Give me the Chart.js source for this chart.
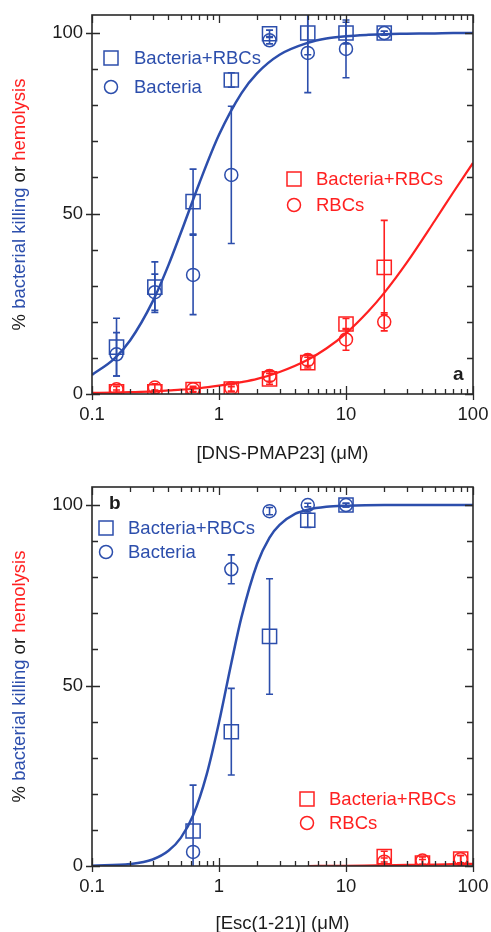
<!DOCTYPE html>
<html>
<head>
<meta charset="utf-8">
<script src="https://cdn.jsdelivr.net/npm/chart.js@4.4.0/dist/chart.umd.min.js"></script>
<style>
  html, body { margin: 0; padding: 0; background: #fff; }
  .panel { position: absolute; left: 0; }
  #chartA { top: 0; }
  #chartB { top: 465px; }
</style>
</head>
<body>
<canvas id="chartA" class="panel" width="491" height="465"></canvas>
<canvas id="chartB" class="panel" width="491" height="467"></canvas>
<script>
const BLUE = 'rgb(44, 78, 172)';
const RED = 'rgb(255, 32, 32)';
const INK = '#1c1c1c';
const FONT = '"Liberation Sans", Arial, sans-serif';

// axis ticks
const xTicks = [0.1, 1, 10, 100];
const xMinorTicks = [0.2, 0.3, 0.4, 0.5, 0.6, 0.7, 0.8, 0.9, 2, 3, 4, 5, 6, 7, 8, 9, 20, 30, 40, 50, 60, 70, 80, 90];
const yTicks = [0, 50, 100];
const yMinorTicks = [10, 20, 30, 40, 60, 70, 80, 90];

// panel a: DNS-PMAP23
const concA = [0.156, 0.3125, 0.625, 1.25, 2.5, 5, 10, 20];
const aBlueSq = [13, 29.6, 53.3, 87, 99.8, 100, 100, 100];
const aBlueSqErr = [8, 7, 9, 2, 1, 6, 3, 0.5];
const aBlueCi = [11, 28.2, 33, 60.7, 98, 94.5, 95.6, 100];
const aBlueCiErr = [6, 5, 11, 19, 1, 11, 8, 0.5];
const aRedSq = [0.6, 0.6, 1.2, 1.4, 4.2, 8.7, 19.4, 35.1];
const aRedSqErr = [0.5, 0.5, 0.5, 0.6, 1.5, 1.5, 1.5, 13];
const aRedCi = [1.3, 1.8, 1.3, 1.6, 5, 9.4, 15.1, 20];
const aRedCiErr = [0.8, 1, 0.8, 1, 1.5, 1.5, 3, 2.5];

const curveXA = [0.1, 0.15, 0.2, 0.3, 0.4, 0.5, 0.7, 1, 1.5, 2, 3, 5, 7, 10, 15, 20, 30, 50, 70, 100];
const curveABlue = [5.3, 9.8, 14.9, 25.6, 35.7, 44.6, 58.4, 71.8, 83.3, 88.9, 94.0, 97.3, 98.5, 99.1, 99.5, 99.7, 99.8, 99.9, 100, 100];
const curveARed = [0.3, 0.4, 0.5, 0.7, 1.0, 1.2, 1.6, 2.3, 3.3, 4.2, 6.1, 9.5, 12.6, 16.8, 22.9, 28, 36.3, 48, 55.9, 64];

// panel b: Esc(1-21)
const concB = [0.625, 1.25, 2.5, 5, 10];
const bBlueSq = [9.7, 37.2, 63.6, 95.8, 100];
const bBlueSqErr = [12.7, 12, 16, 2, 0.5];
const bBlueCi = [3.9, 82.2, 98.3, 100, 100];
const bBlueCiErr = [0, 4, 1, 0.5, 0.5];
const concBRed = [20, 40, 80];
const bRedSq = [2.6, 0.8, 1.9];
const bRedSqErr = [1.5, 1, 1];
const bRedCi = [1.2, 1.5, 1.9];
const bRedCiErr = [1, 1, 1];

const curveXB = [0.1, 0.2, 0.3, 0.4, 0.5, 0.625, 0.8, 1, 1.25, 1.5, 2, 2.5, 3, 4, 5, 7, 10, 20, 50, 100];
const curveBBlue = [0.1, 0.55, 1.8, 4.2, 7.8, 14, 25.4, 39.8, 56.2, 68.8, 83.8, 91, 94.5, 97.6, 98.7, 99.5, 99.8, 100, 100, 100];
const curveXBRed = [5, 10, 14, 20, 30, 50, 70, 100];
const curveBRed = [0, 0.05, 0.1, 0.2, 0.3, 0.4, 0.5, 0.6];

function pts(xs, ys) {
  return xs.map((x, i) => ({ x: x, y: ys[i] }));
}

function curve(xs, ys, color, width) {
  return {
    data: pts(xs, ys), showLine: true, borderColor: color, borderWidth: width,
    pointRadius: 0, cubicInterpolationMode: 'monotone', order: 2
  };
}

function marks(xs, ys, errs, color, style) {
  return {
    data: pts(xs, ys), errorBars: errs, showLine: false,
    pointStyle: style, pointRadius: style === 'rect' ? 10 : 6.5,
    pointBorderWidth: 1.5, borderColor: color, backgroundColor: 'rgba(0,0,0,0)',
    order: 1
  };
}

// error bars, drawn through the chart scales
const errorBarPlugin = {
  id: 'errorBars',
  afterDatasetsDraw(chart) {
    const { ctx, chartArea, scales } = chart;
    ctx.save();
    ctx.beginPath();
    ctx.rect(chartArea.left, chartArea.top, chartArea.right - chartArea.left, chartArea.bottom - chartArea.top);
    ctx.clip();
    chart.data.datasets.forEach(ds => {
      if (!ds.errorBars) return;
      ctx.strokeStyle = ds.borderColor;
      ctx.lineWidth = 1.6;
      ds.data.forEach((p, i) => {
        const e = ds.errorBars[i];
        if (!e) return;
        const px = scales.x.getPixelForValue(p.x);
        const y1 = scales.y.getPixelForValue(p.y + e);
        const y0 = scales.y.getPixelForValue(p.y - e);
        ctx.beginPath();
        ctx.moveTo(px, y0); ctx.lineTo(px, y1);
        ctx.moveTo(px - 3.5, y0); ctx.lineTo(px + 3.5, y0);
        ctx.moveTo(px - 3.5, y1); ctx.lineTo(px + 3.5, y1);
        ctx.stroke();
      });
    });
    ctx.restore();
  }
};

// frame, inward ticks, legends, tag and the coloured y title
const decorPlugin = {
  id: 'decor',
  afterDraw(chart, args, opts) {
    const { ctx, chartArea: a, scales } = chart;
    ctx.save();
    ctx.strokeStyle = '#2a2a2a';
    ctx.lineWidth = 1.3;
    ctx.beginPath();
    xTicks.forEach(v => {
      const px = Math.round(scales.x.getPixelForValue(v)) + 0.5;
      ctx.moveTo(px, a.bottom + 6); ctx.lineTo(px, a.bottom - 8);
      ctx.moveTo(px, a.top); ctx.lineTo(px, a.top + 8);
    });
    xMinorTicks.forEach(v => {
      const px = Math.round(scales.x.getPixelForValue(v)) + 0.5;
      ctx.moveTo(px, a.bottom); ctx.lineTo(px, a.bottom - 5);
      ctx.moveTo(px, a.top); ctx.lineTo(px, a.top + 5);
    });
    yTicks.forEach(v => {
      const py = Math.round(scales.y.getPixelForValue(v)) + 0.5;
      ctx.moveTo(a.left - 6, py); ctx.lineTo(a.left + 8, py);
      ctx.moveTo(a.right - 8, py); ctx.lineTo(a.right, py);
    });
    yMinorTicks.forEach(v => {
      const py = Math.round(scales.y.getPixelForValue(v)) + 0.5;
      ctx.moveTo(a.left, py); ctx.lineTo(a.left + 6, py);
      ctx.moveTo(a.right - 6, py); ctx.lineTo(a.right, py);
    });
    ctx.stroke();
    ctx.lineWidth = 1.6;
    ctx.strokeRect(a.left, a.top, a.right - a.left, a.bottom - a.top);

    // legends
    ctx.font = '18.5px ' + FONT;
    ctx.textBaseline = 'middle';
    opts.legends.forEach(lg => {
      lg.items.forEach((it, i) => {
        const cx = lg.x, cy = lg.y + i * lg.gap;
        ctx.strokeStyle = lg.color;
        ctx.lineWidth = 1.5;
        if (it[0] === 'rect') {
          ctx.strokeRect(cx - 7, cy - 7, 14, 14);
        } else {
          ctx.beginPath(); ctx.arc(cx, cy, 6.5, 0, Math.PI * 2); ctx.stroke();
        }
        ctx.fillStyle = lg.color;
        ctx.fillText(it[1], cx + lg.dx, cy + 1);
      });
    });

    // panel tag
    ctx.font = 'bold 19px ' + FONT;
    ctx.fillStyle = INK;
    ctx.fillText(opts.tag.text, opts.tag.x, opts.tag.y);

    // y title in several colours
    const parts = [['% ', INK], ['bacterial killing', BLUE], [' or ', INK], ['hemolysis', RED]];
    ctx.font = '18.5px ' + FONT;
    const total = parts.reduce((s, p) => s + ctx.measureText(p[0]).width, 0);
    ctx.translate(20, (a.top + a.bottom) / 2);
    ctx.rotate(-Math.PI / 2);
    let x = -total / 2;
    ctx.textAlign = 'left';
    parts.forEach(p => {
      ctx.fillStyle = p[1];
      ctx.fillText(p[0], x, 0);
      x += ctx.measureText(p[0]).width;
    });
    ctx.restore();
  }
};

function makePanel(id, cfg) {
  return new Chart(document.getElementById(id), {
    type: 'scatter',
    data: { datasets: cfg.datasets },
    options: {
      responsive: false,
      animation: false,
      layout: { padding: { left: 0, right: 18, top: cfg.padTop, bottom: 0 } },
      plugins: {
        legend: { display: false },
        tooltip: { enabled: false },
        decor: { legends: cfg.legends, tag: cfg.tag }
      },
      scales: {
        x: {
          type: 'logarithmic', min: 0.1, max: 100,
          afterBuildTicks: s => { s.ticks = xTicks.map(v => ({ value: v })); },
          afterFit: s => { s.height = cfg.xHeight; s.paddingLeft = 0; s.paddingRight = 0; },
          ticks: {
            autoSkip: false, maxRotation: 0, padding: 10, color: INK,
            font: { family: FONT, size: 18.5 },
            callback: v => String(v)
          },
          grid: { display: false, drawTicks: false },
          border: { display: false },
          title: {
            display: true, text: cfg.xTitle, color: INK,
            font: { family: FONT, size: 18.5 },
            padding: { top: 0, bottom: cfg.titlePad }
          }
        },
        y: {
          type: 'linear', min: 0, max: 105,
          afterBuildTicks: s => { s.ticks = yTicks.map(v => ({ value: v })); },
          afterFit: s => { s.width = 92; s.paddingTop = 0; s.paddingBottom = 0; },
          ticks: { padding: 9, color: INK, font: { family: FONT, size: 18.5 } },
          grid: { display: false, drawTicks: false },
          border: { display: false }
        }
      }
    },
    plugins: [errorBarPlugin, decorPlugin]
  });
}

makePanel('chartA', {
  padTop: 15, xHeight: 71, titlePad: 0,
  xTitle: '[DNS-PMAP23] (\u03bcM)',
  datasets: [
    curve(curveXA, curveABlue, BLUE, 2.5),
    curve(curveXA, curveARed, RED, 2.2),
    marks(concA, aBlueSq, aBlueSqErr, BLUE, 'rect'),
    marks(concA, aBlueCi, aBlueCiErr, BLUE, 'circle'),
    marks(concA, aRedSq, aRedSqErr, RED, 'rect'),
    marks(concA, aRedCi, aRedCiErr, RED, 'circle')
  ],
  legends: [
    { x: 111, y: 58, gap: 29, dx: 23, color: BLUE, items: [['rect', 'Bacteria+RBCs'], ['circle', 'Bacteria']] },
    { x: 294, y: 179, gap: 26, dx: 22, color: RED, items: [['rect', 'Bacteria+RBCs'], ['circle', 'RBCs']] }
  ],
  tag: { text: 'a', x: 453, y: 375 }
});

makePanel('chartB', {
  padTop: 22, xHeight: 66, titlePad: -3,
  xTitle: '[Esc(1-21)] (\u03bcM)',
  datasets: [
    curve(curveXB, curveBBlue, BLUE, 2.5),
    curve(curveXBRed, curveBRed, RED, 2.2),
    marks(concB, bBlueSq, bBlueSqErr, BLUE, 'rect'),
    marks(concB, bBlueCi, bBlueCiErr, BLUE, 'circle'),
    marks(concBRed, bRedSq, bRedSqErr, RED, 'rect'),
    marks(concBRed, bRedCi, bRedCiErr, RED, 'circle')
  ],
  legends: [
    { x: 106, y: 63, gap: 24, dx: 22, color: BLUE, items: [['rect', 'Bacteria+RBCs'], ['circle', 'Bacteria']] },
    { x: 307, y: 334, gap: 24, dx: 22, color: RED, items: [['rect', 'Bacteria+RBCs'], ['circle', 'RBCs']] }
  ],
  tag: { text: 'b', x: 109, y: 39 }
});
</script>
</body>
</html>
